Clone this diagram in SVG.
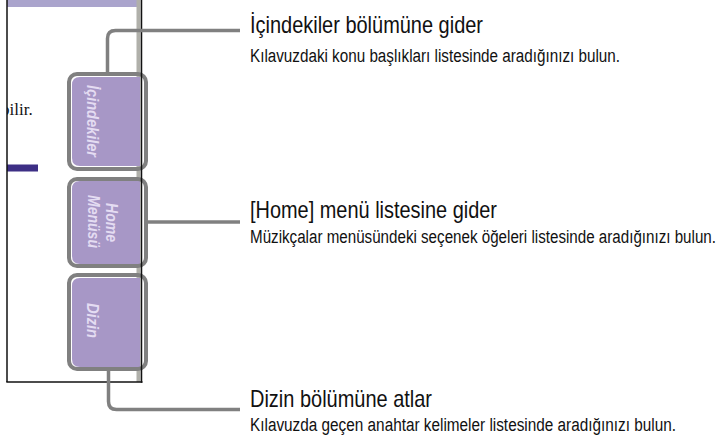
<svg xmlns="http://www.w3.org/2000/svg" width="725" height="438" viewBox="0 0 725 438">
<defs>
<style>
.title{font-family:"Liberation Sans Narrow","Liberation Sans",Arial,sans-serif;font-size:24px;fill:#111}
.sub{font-family:"Liberation Sans Narrow","Liberation Sans",Arial,sans-serif;font-size:18px;fill:#111}
.lbl{font-family:"Liberation Sans Narrow","Liberation Sans",Arial,sans-serif;font-size:17px;font-weight:bold;font-style:italic;fill:#e4dcf2;text-anchor:middle}
.frame{fill:none;stroke:#808080;stroke-width:4}
.fill{fill:#a797c6}
.conn{fill:none;stroke:#808080;stroke-width:3.5}
</style>
<clipPath id="pageclip"><rect x="7" y="0" width="135" height="382"/></clipPath>
</defs>
<rect width="725" height="438" fill="#fff"/>
<g id="page">
<rect x="7" y="0" width="130" height="7" fill="#aaa4cc"/>
<rect x="136.5" y="0" width="4" height="382" fill="#b0b0aa"/>
<text x="1" y="115" clip-path="url(#pageclip)" font-family="Liberation Serif,serif" font-size="17" fill="#111">bilir.</text>
<rect x="7" y="164.5" width="31" height="7" fill="#3d2f85"/>
<line x1="7" y1="0" x2="7" y2="382" stroke="#111" stroke-width="1.5"/>
<line x1="6.3" y1="382" x2="142.5" y2="382" stroke="#111" stroke-width="1.5"/>
</g>
<g id="tab-icindekiler">
<path class="fill" d="M80,77 H140 V166 H80 Q72,166 72,158 V85 Q72,77 80,77 Z"/>
<rect class="frame" x="69" y="74" width="77" height="95" rx="8"/>
<text class="lbl" transform="translate(87,121) rotate(90)" textLength="72" lengthAdjust="spacingAndGlyphs">İçindekiler</text>
</g>
<g id="tab-home">
<path class="fill" d="M80,181 H140 V264 H80 Q72,264 72,256 V189 Q72,181 80,181 Z"/>
<rect class="frame" x="69" y="179" width="77" height="87" rx="8"/>
<text class="lbl" transform="translate(106,222.5) rotate(90)" textLength="39" lengthAdjust="spacingAndGlyphs">Home</text>
<text class="lbl" transform="translate(88,221.5) rotate(90)" textLength="53" lengthAdjust="spacingAndGlyphs">Menüsü</text>
</g>
<g id="tab-dizin">
<path class="fill" d="M80,278 H140 V367 H80 Q72,367 72,359 V286 Q72,278 80,278 Z"/>
<rect class="frame" x="69" y="275" width="77" height="94" rx="8"/>
<text class="lbl" transform="translate(87,320.5) rotate(90)" textLength="35" lengthAdjust="spacingAndGlyphs">Dizin</text>
</g>
<line x1="141.5" y1="0" x2="141.5" y2="382.7" stroke="#111" stroke-width="1.5"/>
<g id="connectors">
<path class="conn" d="M107.5,72 V38.5 Q107.5,30.5 115.5,30.5 H240"/>
<path class="conn" d="M148,222 H240"/>
<path class="conn" d="M108.5,371 V401.5 Q108.5,409.5 116.5,409.5 H240"/>
</g>
<g id="label-icindekiler">
<text class="title" x="250" y="33" textLength="233" lengthAdjust="spacingAndGlyphs">İçindekiler bölümüne gider</text>
<text class="sub" x="250" y="62" textLength="370" lengthAdjust="spacingAndGlyphs">Kılavuzdaki konu başlıkları listesinde aradığınızı bulun.</text>
</g>
<g id="label-home">
<text class="title" x="250" y="218" textLength="247" lengthAdjust="spacingAndGlyphs">[Home] menü listesine gider</text>
<text class="sub" x="250" y="243" textLength="466" lengthAdjust="spacingAndGlyphs">Müzikçalar menüsündeki seçenek öğeleri listesinde aradığınızı bulun.</text>
</g>
<g id="label-dizin">
<text class="title" x="250" y="407" textLength="182" lengthAdjust="spacingAndGlyphs">Dizin bölümüne atlar</text>
<text class="sub" x="250" y="431" textLength="426" lengthAdjust="spacingAndGlyphs">Kılavuzda geçen anahtar kelimeler listesinde aradığınızı bulun.</text>
</g>
</svg>
